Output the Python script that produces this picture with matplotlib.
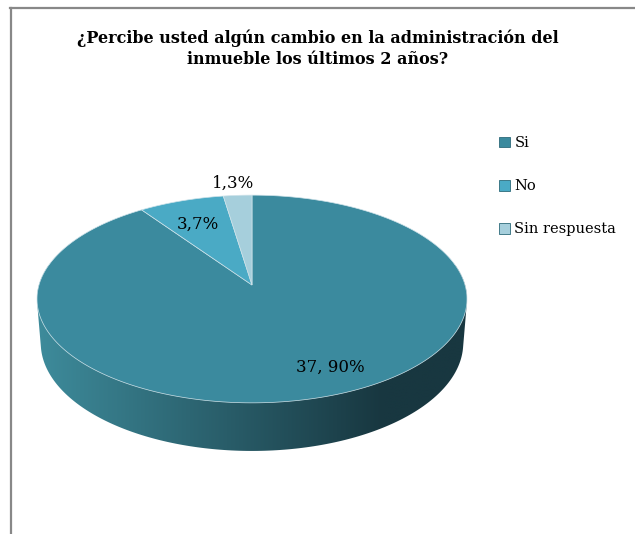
import numpy as np
import matplotlib
matplotlib.use("Agg")
import matplotlib.pyplot as plt
from matplotlib.patches import Polygon, Patch
from matplotlib.lines import Line2D

# datos
categorias = ["Si", "No", "Sin respuesta"]
valores = [37, 3, 1]
etiquetas = ["37, 90%", "3,7%", "1,3%"]
colores = ["#3b8a9e", "#4aaac5", "#a6cfdc"]
titulo = "¿Percibe usted algún cambio en la administración del\ninmueble los últimos 2 años?"

fig = plt.figure(figsize=(6.35, 5.34), dpi=100)
ax = fig.add_axes([0, 0, 1, 1])
ax.set_xlim(0, 635)
ax.set_ylim(534, 0)
ax.axis("off")

# marco (solo arriba e izquierda)
fig.add_artist(Line2D([10 / 635, 1], [1 - 7.5 / 534, 1 - 7.5 / 534], color="#888888", lw=1.6))
fig.add_artist(Line2D([10.5 / 635, 10.5 / 635], [0, 1 - 7.5 / 534], color="#888888", lw=1.6))

# proyeccion en perspectiva del disco
cx, cy = 252, 285
alfa = np.radians(28.6)
D, f, h = 6.52, 1389.0, 0.238


def proyecta(ang, z=0.0):
    # ang medido desde el fondo, sentido horario
    X = np.sin(ang)
    Y = np.cos(ang)
    u = z * np.cos(alfa) + Y * np.sin(alfa)
    w = D + Y * np.cos(alfa) - z * np.sin(alfa)
    return cx + f * X / w, cy - f * u / w


def envolvente(pts):
    pts = sorted(map(tuple, pts))
    def cruz(o, a, b):
        return (a[0] - o[0]) * (b[1] - o[1]) - (a[1] - o[1]) * (b[0] - o[0])
    inf, sup = [], []
    for p in pts:
        while len(inf) >= 2 and cruz(inf[-2], inf[-1], p) <= 0:
            inf.pop()
        inf.append(p)
    for p in reversed(pts):
        while len(sup) >= 2 and cruz(sup[-2], sup[-1], p) <= 0:
            sup.pop()
        sup.append(p)
    return np.array(inf[:-1] + sup[:-1])


# pared lateral con degradado
t = np.linspace(0, 2 * np.pi, 400)
arriba = np.column_stack(proyecta(t))
abajo = np.column_stack(proyecta(t, -h))
lado = Polygon(envolvente(np.vstack([arriba, abajo])), closed=True,
               facecolor="none", edgecolor="none")
ax.add_patch(lado)
xg = np.linspace(0, 1, 300)
c0 = np.array([62, 140, 156]) / 255
c1 = np.array([24, 55, 64]) / 255
k = np.clip(xg / 0.8, 0, 1)[None, :, None]
img = c0 * (1 - k) + c1 * k
im = ax.imshow(img, extent=[arriba[:, 0].min() - 3, arriba[:, 0].max() + 3,
                            abajo[:, 1].max() + 3, cy - 20],
               aspect="auto", zorder=1, interpolation="bilinear")
im.set_clip_path(lado)

# cara superior: porciones en sentido horario desde arriba
total = sum(valores)
inicio = 0.0
handles = []
for v, c, cat in zip(valores, colores, categorias):
    fin = inicio + v / total * 2 * np.pi
    px, py = proyecta(np.linspace(inicio, fin, 300))
    poly = Polygon(np.column_stack([np.r_[cx, px], np.r_[cy, py]]), closed=True,
                   facecolor=c, edgecolor="#cfe3ea", lw=0.5, zorder=2)
    ax.add_patch(poly)
    handles.append(Patch(facecolor=c, edgecolor="#2c6a7a", lw=0.6, label=cat))
    inicio = fin

# etiquetas de datos
ax.text(330, 367, etiquetas[0], family="DejaVu Serif", fontsize=12, ha="center", va="center", zorder=3)
ax.text(198, 224, etiquetas[1], family="DejaVu Serif", fontsize=12, ha="center", va="center", zorder=3)
ax.text(233, 183, etiquetas[2], family="DejaVu Serif", fontsize=12, ha="center", va="center", zorder=3)

ax.text(318, 49, titulo, family="DejaVu Serif", fontsize=11.5, fontweight="bold",
        ha="center", va="center", linespacing=1.3)

leg = ax.legend(handles=handles, loc="upper left", bbox_to_anchor=(486 / 635, 1 - 123 / 534),
                frameon=False, handlelength=0.75, handleheight=0.75, handletextpad=0.3,
                labelspacing=2.0, prop={"family": "DejaVu Serif", "size": 10.5})

fig.savefig("out.png", dpi=100, facecolor="white")
